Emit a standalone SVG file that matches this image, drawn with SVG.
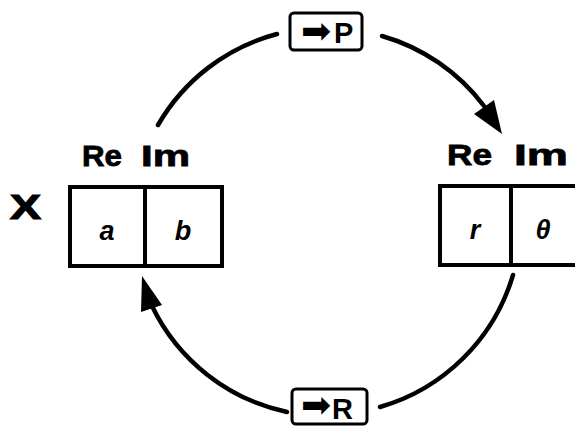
<svg xmlns="http://www.w3.org/2000/svg" width="575" height="426" viewBox="0 0 575 426">
<style>
.arc{fill:none;stroke:#000;stroke-width:4.5;stroke-linecap:round}
.box{fill:#fff;stroke:#000;stroke-width:4}
.lbl{fill:#fff;stroke:#000;stroke-width:3}
.hd{font-family:"Liberation Sans",Arial,sans-serif;font-weight:bold;font-size:30px;fill:#000;stroke:#000;stroke-width:0.8}
.cell{font-family:"Liberation Sans",Arial,sans-serif;font-style:italic;font-weight:bold;font-size:27px;fill:#000;text-anchor:middle}
.op{font-family:"Liberation Sans",Arial,sans-serif;font-weight:bold;font-size:29px;fill:#000}
.sym{font-family:"DejaVu Sans",sans-serif;font-size:36px;fill:#000}
</style>
<rect width="575" height="426" fill="#fff"/>
<g id="connectors">
<path class="arc" d="M158,125 A195,195 0 0 1 277,34"/>
<path class="arc" d="M382,36 A195,195 0 0 1 484,106"/>
<polygon points="502,134 474,114 494,100" fill="#000"/>
<path class="arc" d="M513,275 A195,195 0 0 1 380,407"/>
<path class="arc" d="M287,412 A195,195 0 0 1 152,306"/>
<polygon points="142,276 162,305 141,312" fill="#000"/>
</g>
<g id="label-x">
<text x="10" y="219" font-family="Liberation Sans, Arial, sans-serif" font-weight="bold" font-size="35" textLength="31" lengthAdjust="spacingAndGlyphs" stroke="#000" stroke-width="1.2">X</text>
</g>
<g id="rect-register">
<text class="hd" x="82" y="166" textLength="40" lengthAdjust="spacingAndGlyphs">Re</text>
<text class="hd" x="141" y="166" textLength="49" lengthAdjust="spacingAndGlyphs">Im</text>
<rect class="box" x="70" y="187" width="152" height="79"/>
<line x1="145" y1="187" x2="145" y2="266" stroke="#000" stroke-width="4"/>
<text class="cell" x="107" y="240">a</text>
<text class="cell" x="183" y="240">b</text>
</g>
<g id="polar-register">
<text class="hd" x="447" y="165" textLength="45" lengthAdjust="spacingAndGlyphs">Re</text>
<text class="hd" x="514" y="165" textLength="54" lengthAdjust="spacingAndGlyphs">Im</text>
<rect class="box" x="440" y="186" width="150" height="79"/>
<line x1="511" y1="186" x2="511" y2="265" stroke="#000" stroke-width="4"/>
<text class="cell" x="475" y="239">r</text>
<text class="cell" x="543" y="239">θ</text>
</g>
<g id="to-polar">
<rect class="lbl" x="290" y="13" width="72" height="37" rx="4"/>
<text x="301" y="43"><tspan class="sym">➡</tspan><tspan class="op" x="334">P</tspan></text>
</g>
<g id="to-rect">
<rect class="lbl" x="292" y="389" width="75" height="35" rx="4"/>
<text x="301" y="417"><tspan class="sym">➡</tspan><tspan class="op" x="332" y="419">R</tspan></text>
</g>
</svg>
